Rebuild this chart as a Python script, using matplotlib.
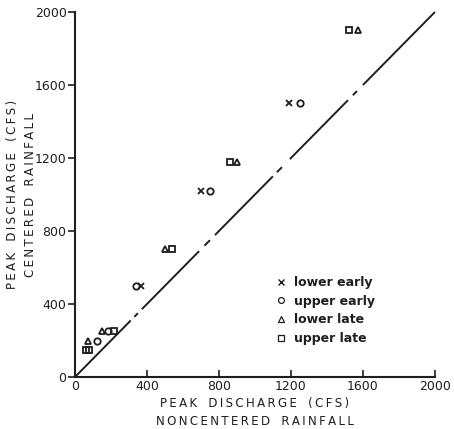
import matplotlib
matplotlib.use("Agg")
import matplotlib.pyplot as plt
from matplotlib.lines import Line2D

# ---- data ----
series_names = ["lower early", "upper early", "lower late", "upper late"]
lower_early_x = [365, 700, 1190]
lower_early_y = [500, 1020, 1500]
upper_early_x = [120, 185, 340, 750, 1250]
upper_early_y = [200, 250, 500, 1020, 1500]
lower_late_x = [75, 150, 500, 900, 1570]
lower_late_y = [200, 250, 700, 1180, 1900]
upper_late_x = [60, 80, 215, 540, 860, 1520]
upper_late_y = [150, 150, 250, 700, 1180, 1900]

# 1:1 line, broken into segments (start, end) as drawn
line_segments = [(0, 310), (330, 350), (372, 690), (720, 750), (778, 1100),
                 (1122, 1150), (1194, 1517), (1544, 1567), (1600, 2000)]

ticks = [0, 400, 800, 1200, 1600, 2000]
tick_labels = ["0", "400", "800", "1200", "1600", "2000"]

ink = "#1e1e1e"
plt.rcParams["font.family"] = ["DejaVu Sans"]

fig = plt.figure(figsize=(4.54, 4.29), dpi=100)
ax = fig.add_axes([0.165, 0.121, 0.793, 0.851])
ax.set_xlim(0, 2000)
ax.set_ylim(0, 2000)

for a, b in line_segments:
    ax.plot([a, b], [a, b], color=ink, lw=1.4, solid_capstyle="butt", clip_on=False)

ms = 4.6
mew = 1.3
ax.plot(lower_early_x, lower_early_y, ls="none", marker="x", ms=ms - 0.8, mew=mew,
        color=ink, clip_on=False)
ax.plot(upper_early_x, upper_early_y, ls="none", marker="o", ms=ms, mew=mew,
        mfc="none", mec=ink, clip_on=False)
ax.plot(lower_late_x, lower_late_y, ls="none", marker="^", ms=ms + 0.4, mew=mew,
        mfc="none", mec=ink, clip_on=False)
ax.plot(upper_late_x, upper_late_y, ls="none", marker="s", ms=ms - 0.2, mew=mew,
        mfc="none", mec=ink, clip_on=False)

for s in ["top", "right"]:
    ax.spines[s].set_visible(False)
for s in ["left", "bottom"]:
    ax.spines[s].set_color(ink)
    ax.spines[s].set_linewidth(1.5)

ax.set_xticks(ticks)
ax.set_xticklabels(tick_labels)
ax.set_yticks(ticks)
ax.set_yticklabels(tick_labels)
ax.tick_params(axis="x", direction="in", length=5, width=1.2, colors=ink,
               labelsize=9, pad=2)
ax.tick_params(axis="y", direction="out", length=5, width=1.2, colors=ink,
               labelsize=9, pad=1)


def spaced(s):
    # letter-spaced caps as in the reference
    return "   ".join("\u2009".join(w) for w in s.split(" "))


ax.set_xlabel(spaced("PEAK DISCHARGE (CFS)") + "\n" + spaced("NONCENTERED RAINFALL"),
              fontsize=8.5, color=ink, linespacing=1.5, labelpad=3)
ax.set_ylabel(spaced("PEAK DISCHARGE (CFS)") + "\n" + spaced("CENTERED RAINFALL"),
              fontsize=8.5, color=ink, linespacing=1.5)
ax.yaxis.set_label_coords(-0.105, 0.5)

handles = [
    Line2D([], [], ls="none", marker="x", ms=3.8, mew=1.0, color=ink),
    Line2D([], [], ls="none", marker="o", ms=4.2, mew=0.9, mfc="none", mec=ink),
    Line2D([], [], ls="none", marker="^", ms=4.6, mew=0.9, mfc="none", mec=ink),
    Line2D([], [], ls="none", marker="s", ms=4.2, mew=0.9, mfc="none", mec=ink),
]
leg = ax.legend(handles, series_names, loc="upper left",
                bbox_to_anchor=(0.545, 0.29), frameon=False,
                prop={"size": 9, "weight": "bold"}, handlelength=0.8,
                handletextpad=0.65, labelspacing=0.45, borderaxespad=0)
for t in leg.get_texts():
    t.set_color(ink)

fig.savefig("out.png", dpi=100, facecolor="white")
